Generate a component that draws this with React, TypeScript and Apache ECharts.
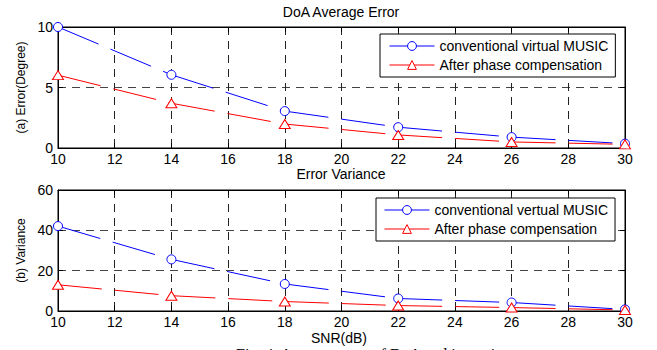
import React, { useEffect, useRef } from "react";
import * as echarts from "echarts";

// ---- data ----
const snr = [10, 14, 18, 22, 26, 30];
const errorConventional = [10, 6.05, 3.05, 1.72, 0.9, 0.36];
const errorCompensated = [6.02, 3.7, 1.98, 1.08, 0.5, 0.3];
const varianceConventional = [42.1, 25.6, 13.4, 6.2, 4.2, 0.8];
const varianceCompensated = [13.0, 7.6, 4.7, 2.7, 1.7, 0.5];

const legendTop = ["conventional virtual MUSIC", "After phase compensation"];
const legendBottom = ["conventional vertual MUSIC", "After phase compensation"];

const titleTop = "DoA Average Error";
const titleBottom = "Error Variance";
const xName = "SNR(dB)";
const yNameTop = "(a) Error(Degree)";
const yNameBottom = "(b) Variance";
const caption = "Fig. 4. Average error of DoA and its variance";

const BLUE = "#0000ff";
const RED = "#ff0000";
const FONT = "'Liberation Sans', Arial, sans-serif";

function segments(values: number[], axisIdx: number, color: string, id: string) {
  const out: any[] = [];
  for (let i = 0; i < values.length - 1; i++) {
    out.push({
      type: "line",
      name: `${id}-seg${i}`,
      xAxisIndex: axisIdx,
      yAxisIndex: axisIdx,
      data: [
        [snr[i], values[i]],
        [snr[i + 1], values[i + 1]],
      ],
      symbol: "none",
      showSymbol: false,
      silent: true,
      lineStyle: { color, width: 1, type: [44, 13] },
      z: 2,
    });
  }
  return out;
}

function markers(values: number[], axisIdx: number, color: string, name: string, symbol: string, size: any) {
  return {
    type: "line",
    name,
    xAxisIndex: axisIdx,
    yAxisIndex: axisIdx,
    data: snr.map((x, i) => [x, values[i]]),
    symbol,
    symbolSize: size,
    showSymbol: true,
    itemStyle: { color: "#fff", borderColor: color, borderWidth: 1 },
    lineStyle: { color, width: 0 },
    z: 4,
  };
}

const axisBlack = { lineStyle: { color: "#000", width: 1 } };

function xAxisMain(gridIndex: number) {
  return {
    type: "value",
    gridIndex,
    min: 10,
    max: 30,
    interval: 2,
    axisLine: { show: true, onZero: false, ...axisBlack },
    axisTick: { show: true, inside: true, length: 5, ...axisBlack },
    axisLabel: { color: "#000", fontSize: 14, lineHeight: 10, fontFamily: FONT, margin: 6 },
    splitLine: { show: true, lineStyle: { color: "#222", width: 1, type: [8, 6] } },
  };
}
function xAxisTop(gridIndex: number) {
  return {
    type: "value",
    gridIndex,
    position: "top",
    min: 10,
    max: 30,
    interval: 2,
    axisLine: { show: true, onZero: false, ...axisBlack },
    axisTick: { show: true, inside: true, length: 5, ...axisBlack },
    axisLabel: { show: false },
    splitLine: { show: false },
  };
}
function yAxisMain(gridIndex: number, max: number, interval: number, name: string) {
  return {
    type: "value",
    gridIndex,
    min: 0,
    max,
    interval,
    name,
    nameLocation: "middle",
    nameGap: 30,
    nameTextStyle: { color: "#000", fontSize: 12, fontFamily: FONT },
    axisLine: { show: true, onZero: false, ...axisBlack },
    axisTick: { show: true, inside: true, length: 5, ...axisBlack },
    axisLabel: { color: "#000", fontSize: 14, lineHeight: 10, fontFamily: FONT, margin: 5 },
    splitLine: { show: true, lineStyle: { color: "#444", width: 1, type: [8, 6] } },
  };
}
function yAxisRight(gridIndex: number, max: number, interval: number) {
  return {
    type: "value",
    gridIndex,
    position: "right",
    min: 0,
    max,
    interval,
    axisLine: { show: true, onZero: false, ...axisBlack },
    axisTick: { show: true, inside: true, length: 5, ...axisBlack },
    axisLabel: { show: false },
    splitLine: { show: false },
  };
}

function legendBox(data: string[], left: number, top: number, padding: number[]) {
  return {
    data,
    orient: "vertical",
    left,
    top,
    itemWidth: 45,
    itemHeight: 11,
    itemGap: 5,
    padding,
    backgroundColor: "#fff",
    borderColor: "#000",
    borderWidth: 1,
    borderRadius: 0,
    selectedMode: false,
    textStyle: { color: "#000", fontSize: 14, fontFamily: FONT },
    lineStyle: { width: 1, type: "solid" },
    itemStyle: { borderWidth: 1 },
  };
}

export default function App() {
  const ref = useRef<HTMLDivElement>(null);
  useEffect(() => {
    if (!ref.current) return;
    const chart = echarts.init(ref.current, undefined, { renderer: "svg" });
    const option: any = {
      animation: false,
      backgroundColor: "#fff",
      grid: [
        { left: 58, top: 27, width: 567, height: 121, show: true, borderColor: "#000", borderWidth: 1, backgroundColor: "transparent" },
        { left: 58, top: 190, width: 567, height: 121, show: true, borderColor: "#000", borderWidth: 1, backgroundColor: "transparent" },
      ],
      xAxis: [xAxisMain(0), xAxisMain(1), xAxisTop(0), xAxisTop(1)],
      yAxis: [
        yAxisMain(0, 10, 5, yNameTop),
        yAxisMain(1, 60, 20, yNameBottom),
        yAxisRight(0, 10, 5),
        yAxisRight(1, 60, 20),
      ],
      legend: [
        legendBox(legendTop, 380, 34, [5, 7, 5, 9]),
        legendBox(legendBottom, 376, 198, [5, 7, 5, 8]),
      ],
      graphic: [
        { type: "text", x: 341, y: 12, style: { text: titleTop, fill: "#000", font: `14px ${FONT}`, lineHeight: 12, align: "center", verticalAlign: "middle" } },
        { type: "text", x: 341, y: 174, style: { text: titleBottom, fill: "#000", font: `14px ${FONT}`, lineHeight: 12, align: "center", verticalAlign: "middle" } },
        { type: "text", x: 339, y: 338, style: { text: xName, fill: "#000", font: `14px ${FONT}`, lineHeight: 12, align: "center", verticalAlign: "middle" } },
        { type: "text", x: 236, y: 346, style: { text: caption, fill: "#000", font: `16px 'Liberation Serif', 'Times New Roman', serif`, lineHeight: 16, align: "left", verticalAlign: "top" } },
      ],
      series: [
        markers(errorConventional, 0, BLUE, legendTop[0], "circle", 9),
        markers(errorCompensated, 0, RED, legendTop[1], "triangle", [11, 9]),
        markers(varianceConventional, 1, BLUE, legendBottom[0], "circle", 9),
        markers(varianceCompensated, 1, RED, "After phase compensation ", "triangle", [11, 9]),
        ...segments(errorConventional, 0, BLUE, "errConv"),
        ...segments(errorCompensated, 0, RED, "errComp"),
        ...segments(varianceConventional, 1, BLUE, "varConv"),
        ...segments(varianceCompensated, 1, RED, "varComp"),
      ],
    };
    chart.setOption(option);
    return () => chart.dispose();
  }, []);
  return (
    <div
      ref={ref}
      style={{ position: "fixed", left: 0, top: 0, width: 657, height: 350, background: "#fff" }}
    />
  );
}
